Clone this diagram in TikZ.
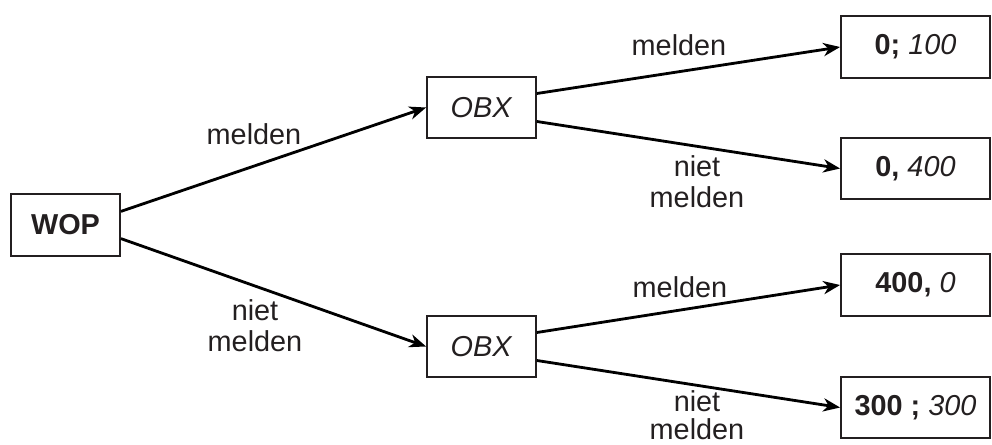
\documentclass[tikz,border=0pt]{standalone}
\usepackage{fontspec}
\setmainfont{Liberation Sans}
\usepackage{tikz}
\usetikzlibrary{positioning, arrows.meta}

\definecolor{inkgray}{RGB}{35,31,32}

\begin{document}
\begin{tikzpicture}[
    x=0.025cm, y=-0.025cm,
    box/.style={rectangle, draw=inkgray, line width=1.4pt, minimum width=2.72cm,
                minimum height=1.53cm, inner sep=0pt, font=\fontsize{20.5}{22}\selectfont, text=inkgray},
    payoff/.style={box, minimum width=3.72cm},
    arrow/.style={-{Stealth[length=4.2mm, width=3.3mm, inset=1.3mm]}, line width=2pt},
    label/.style={font=\fontsize{20.5}{22}\selectfont, text=inkgray, align=center, inner sep=0pt}
]
    \useasboundingbox (0,0) rectangle (992,445);

    % Root
    \node[box] (wop) at (65.5, 225) {\textbf{WOP}};

    % Second player
    \node[box] (obxup) at (481.5, 107.5) {\textit{OBX}};
    \node[box] (obxdown) at (481.5, 346.5) {\textit{OBX}};

    % Outcomes
    \node[payoff] (out1) at (915.5, 47) {\textbf{0;} \textit{100}};
    \node[payoff] (out2) at (915.5, 168.5) {\textbf{0,} \textit{400}};
    \node[payoff] (out3) at (915.5, 285) {\textbf{400,} \textit{0}};
    \node[payoff] (out4) at (915.5, 407.5) {\textbf{300 ;} \textit{300}};

    % First move
    \draw[arrow] ([yshift=0.34cm]wop.east) -- (obxup.west);
    \draw[arrow] ([yshift=-0.34cm]wop.east) -- (obxdown.west);

    % Second move
    \draw[arrow] ([yshift=0.35cm]obxup.east) -- (out1.west);
    \draw[arrow] ([yshift=-0.35cm]obxup.east) -- (out2.west);
    \draw[arrow] ([yshift=0.35cm]obxdown.east) -- (out3.west);
    \draw[arrow] ([yshift=-0.35cm]obxdown.east) -- (out4.west);

    % Labels
    \node[label] (l1) at (254, 134) {melden};
    \node[label] (l2) at (255, 326) {niet\\melden};
    \node[label] (l3) at (679, 45) {melden};
    \node[label] (l4) at (697, 182) {niet\\melden};
    \node[label] (l5) at (680, 287) {melden};
    \node[label, font=\fontsize{20.5}{20}\selectfont] (l6) at (697, 415) {niet\\melden};

\end{tikzpicture}
\end{document}
